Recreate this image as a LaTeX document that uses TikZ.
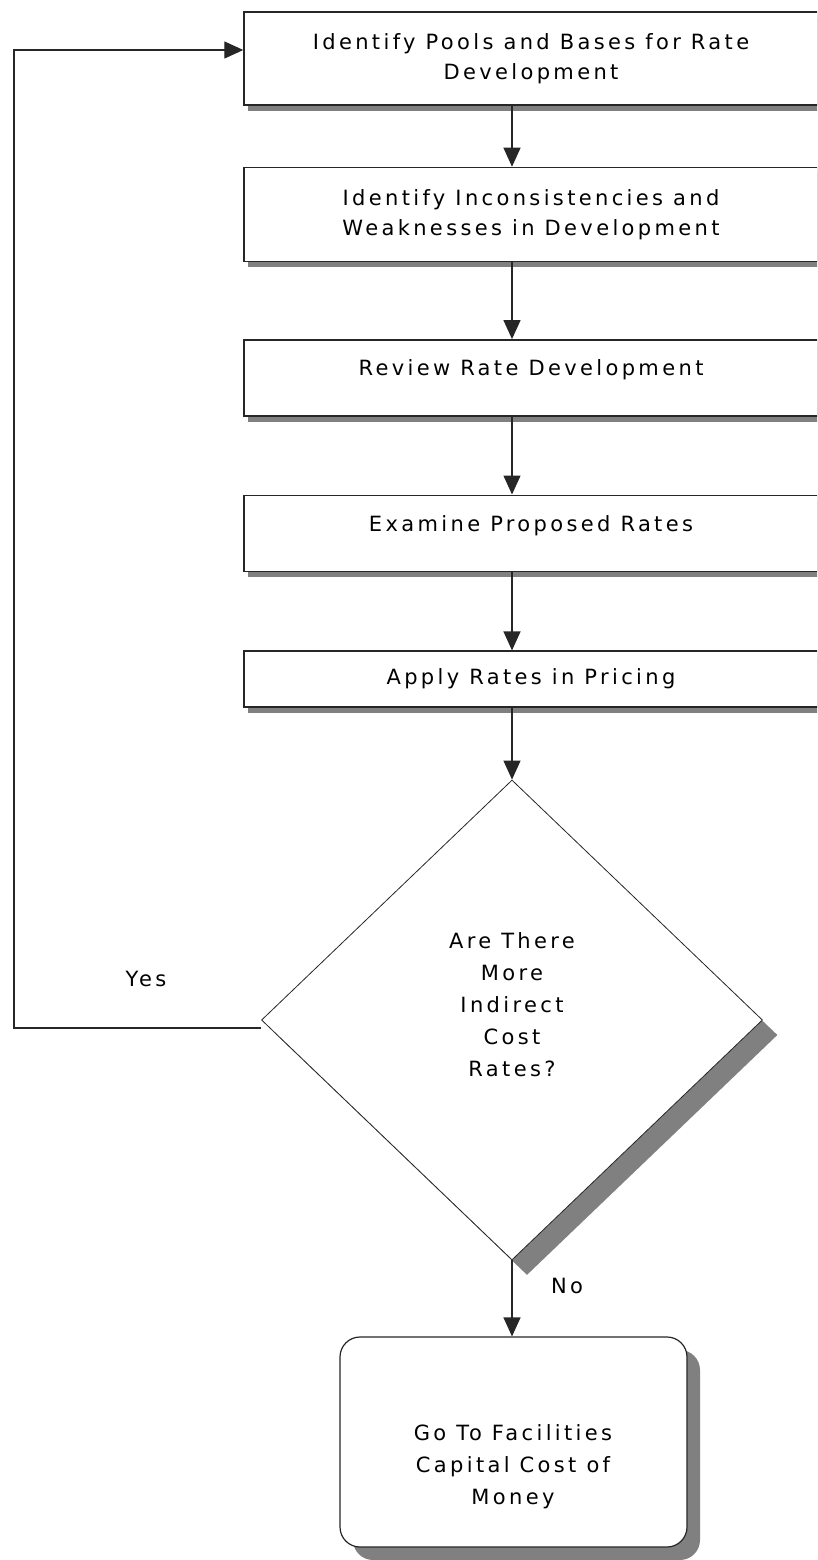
\documentclass[tikz,border=0pt]{standalone}
\usepackage{fontspec}
\setmainfont{DejaVu Sans}[LetterSpace=16]
\usetikzlibrary {positioning}
\usetikzlibrary {shapes.geometric}
\usetikzlibrary {shadows}
\usetikzlibrary {arrows.meta}
\tikzset{
procbox/.style={rectangle,minimum width=574pt,draw=black!85,line width=1.4pt,fill=white,align=center,font=\fontsize{21pt}{30pt}\selectfont,drop shadow={shadow xshift=4pt,shadow yshift=-6pt,fill=black!50,opacity=1}}
}
\tikzset{
decbox/.style={diamond,minimum width=501pt,minimum height=480pt,inner sep=0pt,draw=black!85,line width=0.8pt,fill=white,drop shadow={shadow xshift=15pt,shadow yshift=-15pt,fill=black!50,opacity=1}}
}
\tikzset{
termbox/.style={rectangle,rounded corners=20pt,minimum width=347pt,minimum height=210pt,draw=black!85,line width=1.2pt,fill=white,drop shadow={shadow xshift=13pt,shadow yshift=-13pt,fill=black!50,opacity=1}}
}
\tikzset{
flowtext/.style={align=center,font=\fontsize{21pt}{32pt}\selectfont}
}
\tikzset{
flowline/.style={draw=black!85,line width=1.3pt,-{Triangle[width=17pt,length=19pt]}}
}

\begin{document}
\begin{tikzpicture}[x=1pt,y=-1pt]
\useasboundingbox (0,0) rectangle (817,1560);
\clip (0,0) rectangle (817,1560);

\node[procbox,minimum height=93pt] (pools) at (531,58.5) {Identify Pools and Bases for Rate\\Development};
\node[procbox,minimum height=94pt,below=61pt of pools] (incons) {Identify Inconsistencies and\\Weaknesses in Development};
\node[procbox,minimum height=76pt,text depth=20pt,below=77pt of incons] (review) {Review Rate Development};
\node[procbox,minimum height=76pt,text depth=20pt,below=78pt of review] (examine) {Examine Proposed Rates};
\node[procbox,minimum height=56pt,below=78.5pt of examine] (apply) {Apply Rates in Pricing};
%------------------------------------------------------------------------------------------------------------%
\node[decbox] (more) at (512,1020) {};
\node[flowtext] (moretext) at (512,1005) {Are There\\More\\Indirect\\Cost\\Rates?};
\node[termbox] (money) at (513.5,1442) {};
\node[flowtext] (moneytext) at (513,1466.5) {Go To Facilities\\Capital Cost of\\Money};
\node[flowtext] (yes) at (146,979) {Yes};
\node[flowtext] (no) at (567,1286) {No};
%------------------------------------------------------------------------------------------------------------%
\coordinate (spine) at (512,0);
\coordinate (loop) at (14,1028);
\draw[flowline] (spine |- pools.south) -- (spine |- incons.north);
\draw[flowline] (spine |- incons.south) -- (spine |- review.north);
\draw[flowline] (spine |- review.south) -- (spine |- examine.north);
\draw[flowline] (spine |- examine.south) -- (spine |- apply.north);
\draw[flowline] (spine |- apply.south) -- (more.north);
\draw[flowline] (more.south) -- (more.south |- money.north);
\draw[flowline] ([yshift=-8pt]more.west) -- (loop) |- ([yshift=8.5pt]pools.west);

\end{tikzpicture}
\end{document}
